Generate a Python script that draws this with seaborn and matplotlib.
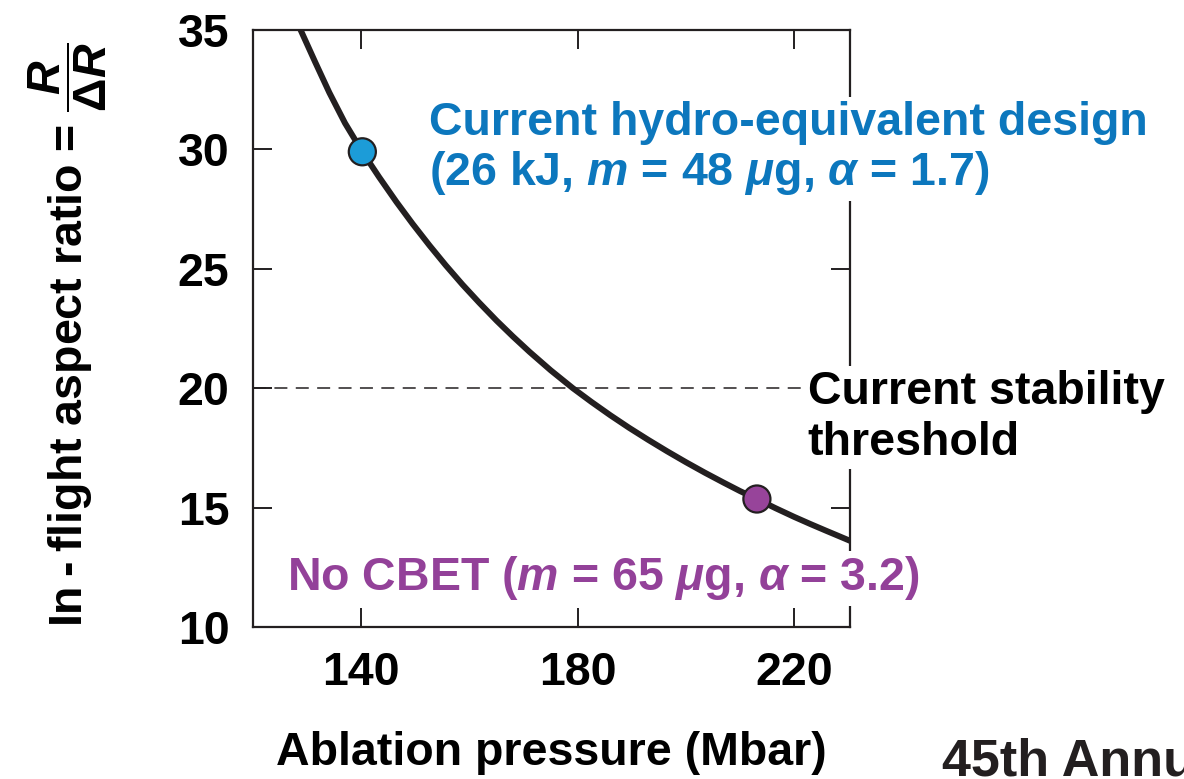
import matplotlib
matplotlib.use("Agg")
import matplotlib.pyplot as plt
import pandas as pd
import seaborn as sns

# Aspect ratio vs. ablation pressure curve
pressure_mbar = [128.7, 131.5, 134.1, 137.0, 140.2, 143.3, 146.5, 149.5, 152.6,
                 155.6, 158.7, 161.8, 165.0, 168.0, 171.1, 175.0, 179.1, 182.5,
                 186.0, 189.5, 193.0, 196.5, 200.0, 203.5, 207.0, 210.0, 213.1,
                 216.5, 220.0, 223.0, 226.0, 228.0, 230.3]
aspect_ratio = [35.05, 33.65, 32.38, 31.1, 29.9, 28.84, 27.8, 26.88, 25.98,
                25.15, 24.34, 23.58, 22.83, 22.17, 21.52, 20.75, 20.0, 19.43,
                18.87, 18.34, 17.84, 17.36, 16.9, 16.46, 16.04, 15.69, 15.36,
                14.98, 14.61, 14.31, 14.02, 13.83, 13.61]

# Highlighted designs on the curve
design_names = ["Current hydro-equivalent design", "No CBET"]
design_pressure = [140.2, 213.1]
design_ratio = [29.9, 15.36]
design_colors = ["#1C9CD8", "#97449A"]

stability_threshold = 20
x_ticks = [140, 180, 220]
y_ticks = [10, 15, 20, 25, 30, 35]

INK = "#231F20"
BLUE_TEXT = "#0C77BD"
PURPLE_TEXT = "#934199"
FS = 33.5

sns.set_theme(style="ticks")
plt.rcParams.update({
    "font.family": ["Liberation Sans", "DejaVu Sans"],
    "font.weight": "bold",
    "mathtext.fontset": "custom",
    "mathtext.rm": "Liberation Sans:bold",
    "mathtext.bf": "Liberation Sans:bold",
    "mathtext.it": "Liberation Sans:bold:italic",
    "mathtext.default": "it",
    "axes.edgecolor": INK,
    "axes.linewidth": 1.6,
    "axes.labelcolor": "black",
    "text.color": "black",
    "xtick.color": INK,
    "ytick.color": INK,
    "xtick.labelcolor": "black",
    "ytick.labelcolor": "black",
})

curve = pd.DataFrame({"pressure": pressure_mbar, "ratio": aspect_ratio})
designs = pd.DataFrame({"name": design_names, "pressure": design_pressure,
                        "ratio": design_ratio})

fig = plt.figure(figsize=(11.84, 7.79), dpi=100)
ax = fig.add_axes([253 / 1184, 1 - 627 / 779, 597 / 1184, 597 / 779])

ax.axhline(stability_threshold, color=INK, lw=1.1, ls=(0, (8.5, 5.5)), zorder=1.8)
sns.lineplot(data=curve, x="pressure", y="ratio", ax=ax, color=INK, lw=4.3,
             sort=False, zorder=2)
sns.scatterplot(data=designs, x="pressure", y="ratio", hue="name",
                palette=design_colors, s=380, edgecolor=INK, linewidth=1.6,
                ax=ax, zorder=4, legend=False)

ax.set_xlim(120, 230.3)
ax.set_ylim(10, 35)
ax.set_xticks(x_ticks)
ax.set_yticks(y_ticks)
ax.tick_params(axis="both", which="major", direction="in", length=14, width=1.4,
               labelsize=FS, top=True, right=True)
ax.tick_params(axis="x", pad=17)
ax.tick_params(axis="y", pad=17)
for lab in ax.get_xticklabels() + ax.get_yticklabels():
    lab.set_fontweight("bold")

ax.set_xlabel("Ablation pressure (Mbar)", fontsize=FS, fontweight="bold", labelpad=26.5)
ax.set_ylabel("In\u2009-\u2009flight aspect ratio = " + r"$\dfrac{R}{\Delta R}$",
              fontsize=FS, fontweight="bold")
ax.yaxis.set_label_coords(-0.241, 0.49)

box = dict(boxstyle="square,pad=0.08", fc="white", ec="none")
ax.text(152.6, 30.6, "Current hydro-equivalent design", color=BLUE_TEXT,
        fontsize=FS, fontweight="bold", va="baseline", ha="left", bbox=box, zorder=5)
ax.text(152.6, 28.5, r"(26 kJ, $m$ = 48 $\mu$g, $\alpha$ = 1.7)", color=BLUE_TEXT,
        fontsize=FS, fontweight="bold", va="baseline", ha="left", bbox=box, zorder=5)
ax.text(222.5, 19.33, "Current stability", color="black", fontsize=FS,
        fontweight="bold", va="baseline", ha="left", bbox=box, zorder=5)
ax.text(222.5, 17.19, "threshold", color="black", fontsize=FS,
        fontweight="bold", va="baseline", ha="left", bbox=box, zorder=5)
ax.text(126.2, 11.54, r"No CBET ($m$ = 65 $\mu$g, $\alpha$ = 3.2)", color=PURPLE_TEXT,
        fontsize=FS, fontweight="bold", va="baseline", ha="left", bbox=box, zorder=5)

fig.text(942 / 1184, 1 - 776 / 779, "45th Annual", fontsize=37.5, fontweight="bold",
         color=INK, va="baseline", ha="left")

fig.savefig("out.png", dpi=100)
